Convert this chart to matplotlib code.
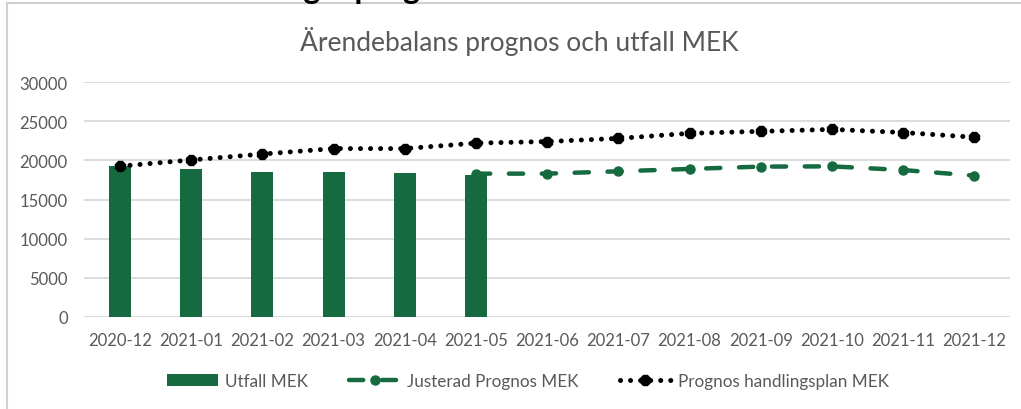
import matplotlib
matplotlib.use("Agg")
import matplotlib.pyplot as plt
from matplotlib.patches import Rectangle

plt.rcParams['font.family'] = ['Lato', 'DejaVu Sans']

categories = ["2020-12", "2021-01", "2021-02", "2021-03", "2021-04", "2021-05", "2021-06",
              "2021-07", "2021-08", "2021-09", "2021-10", "2021-11", "2021-12"]
utfall = [19300, 18850, 18500, 18500, 18380, 18150]
justerad = [None, None, None, None, None, 18300, 18300, 18600, 18900, 19200, 19230, 18760, 18050]
handlingsplan = [19250, 20050, 20800, 21500, 21500, 22200, 22400, 22800, 23450, 23700, 23950, 23550, 22950]
yticks = [0, 5000, 10000, 15000, 20000, 25000, 30000]

GREEN = "#156B3F"
GRAY = "#595959"
GRID = "#D9D9D9"

W, H = 1021, 410
fig = plt.figure(figsize=(W / 100, H / 100), dpi=100)

# outer chart frame
fig.patches.append(Rectangle((7 / W, -0.05), 1.1, 1 - 4 / H + 0.05, transform=fig.transFigure,
                             fill=False, edgecolor="#D0D0D0", linewidth=1.5))
# cut-off heading above the chart (only descenders visible)
fig.text(250 / W, 1 + 1 / H, "Tidig – prognos", fontsize=23, fontweight="bold", color="black",
         ha="left", va="baseline")

ax = fig.add_axes([84.4 / W, 1 - 318 / H, (1010 - 84.4) / W, (318 - 83) / H])
x = list(range(len(categories)))

bars = ax.bar(x[:len(utfall)], utfall, width=0.31, color=GREEN, zorder=2, label="Utfall MEK")

jx = [i for i, v in zip(x, justerad) if v is not None]
jy = [v for v in justerad if v is not None]
l1, = ax.plot(jx, jy, color=GREEN, linewidth=3.2, linestyle=(0, (3.2, 4.2)), dash_capstyle="round",
              marker="o", markersize=6.5, zorder=3, label="Justerad Prognos MEK")
l2, = ax.plot(x, handlingsplan, color="black", linewidth=3.6, linestyle=(0, (0.01, 2.0)),
              dash_capstyle="round", marker="8", markersize=7.5, zorder=4,
              label="Prognos handlingsplan MEK")

ax.set_xlim(-0.5, len(categories) - 0.5)
ax.set_ylim(0, 30000)
ax.set_yticks(yticks)
ax.set_yticklabels([str(v) for v in yticks])
ax.set_xticks(x)
ax.set_xticklabels(categories)
ax.tick_params(axis="both", length=0, labelsize=12, labelcolor=GRAY)
ax.tick_params(axis="y", pad=12)
ax.tick_params(axis="x", pad=11)
ax.grid(axis="y", color=GRID, linewidth=1.3, zorder=0)
ax.set_axisbelow(True)
for s in ax.spines.values():
    s.set_visible(False)

fig.text(519 / W, 1 - 42 / H, "Ärendebalans prognos och utfall MEK", fontsize=19, color=GRAY,
         ha="center", va="center")

leg = fig.legend([bars, l1, l2], [bars.get_label(), l1.get_label(), l2.get_label()],
                 loc="center", bbox_to_anchor=(528 / W, 1 - 382 / H),
                 ncol=3, frameon=False, fontsize=12.3, handlelength=3.0, numpoints=1,
                 columnspacing=2.4, handletextpad=0.4)
for t in leg.get_texts():
    t.set_color(GRAY)

fig.savefig("out.png", dpi=100)
